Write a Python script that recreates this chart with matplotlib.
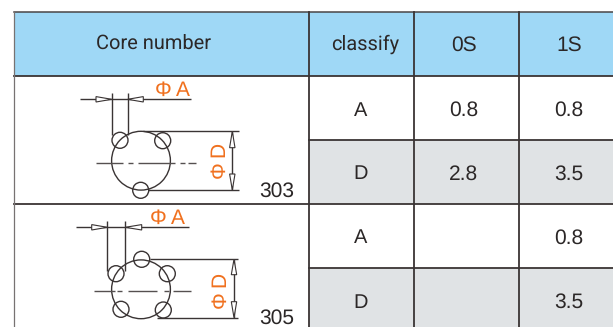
import matplotlib
matplotlib.use("Agg")
import matplotlib.pyplot as plt
from matplotlib.patches import Circle, Polygon, Rectangle

header_labels = ["Core number", "classify", "0S", "1S"]
core_numbers = ["303", "305"]
classes = ["A", "D", "A", "D"]
values_0s = ["0.8", "2.8", "", ""]
values_1s = ["0.8", "3.5", "0.8", "3.5"]

plt.rcParams["text.hinting"] = "no_hinting"
plt.rcParams["text.hinting_factor"] = 1

SANS = "Liberation Sans"
NARROW = "Roboto"
INK = "#3a3434"
TXT = "#2b2727"
ORANGE = "#f0701e"
BLUE = "#9fd8f6"
GREY = "#e0e3e5"

col_x = [14, 309, 414, 519, 613]
row_y = [12, 76, 140, 204, 268, 327]

fig = plt.figure(figsize=(6.13, 3.27), dpi=100)
ax = fig.add_axes([0, 0, 1, 1])
ax.set_xlim(0, 613)
ax.set_ylim(327, 0)
ax.axis("off")

ax.add_patch(Rectangle((14, 12), 599, 64, fc=BLUE, ec="none", zorder=0))
for r in (2, 4):
    ax.add_patch(Rectangle((309, row_y[r]), 304, row_y[r + 1] - row_y[r], fc=GREY, ec="none", zorder=0))

# grid
ax.plot([14, 613], [12, 12], color="#4a4545", lw=1.1, zorder=2)
ax.plot([14, 613], [76, 76], color=INK, lw=1.3, zorder=2)
ax.plot([14, 613], [204, 204], color=INK, lw=1.3, zorder=2)
ax.plot([309, 613], [140, 140], color=INK, lw=1.3, zorder=2)
ax.plot([309, 613], [268, 268], color=INK, lw=1.3, zorder=2)
ax.plot([14, 14], [12, 327], color="#777272", lw=0.9, zorder=2)
for x in col_x[1:4]:
    ax.plot([x, x], [12, 327], color=INK, lw=1.3, zorder=2)

# header text
hdr_centers = [154, 365, 464.5, 569.5]
hdr_y = [43, 44, 45.5, 45.5]
for i, (x, y, s) in enumerate(zip(hdr_centers, hdr_y, header_labels)):
    fam = NARROW if i < 2 else SANS
    size = 14.6 if i < 2 else 15
    ax.text(x, y, s, ha="center", va="center", family=fam, fontsize=size, color=TXT)

# body text
row_centers = [110.5, 174, 238, 302.5]
for y, c, a, b in zip(row_centers, classes, values_0s, values_1s):
    ax.text(361, y, c, ha="center", va="center", family=SANS, fontsize=14.5, color=TXT)
    if a:
        ax.text(464, y, a, ha="center", va="center", family=SANS, fontsize=15, color=TXT)
    ax.text(569, y, b, ha="center", va="center", family=SANS, fontsize=15, color=TXT)


def arrow(tip, base, horizontal=True, w=2.7):
    if horizontal:
        pts = [(tip, base[1]), (base[0], base[1] - w), (base[0], base[1] + w)]
    else:
        pts = [(base[0], tip), (base[0] - w, base[1]), (base[0] + w, base[1])]
    ax.add_patch(Polygon(pts, closed=True, fc="white", ec=INK, lw=0.8, zorder=4))


def seg(x0, y0, x1, y1, lw=1.0, c=INK):
    ax.plot([x0, x1], [y0, y1], color=c, lw=lw, solid_capstyle="butt", zorder=3)


def diagram(center, small, cl_y, cl_segs, vx, vy, hy, hx, arr, ext_top, ext_bot, dimx, darr,
            phia_xy, phid_xy, num, num_xy):
    ax.add_patch(Circle(center, 29.4, fc="none", ec=INK, lw=1.0, zorder=3))
    for s in small:
        ax.add_patch(Circle(s, 8, fc="none", ec=INK, lw=1.0, zorder=3))
    for x0, x1 in cl_segs:
        seg(x0, cl_y, x1, cl_y, c="#555050")
    for x in vx:
        seg(x, vy[0], x, vy[1])
    seg(hx[0], hy, hx[1], hy)
    arrow(vx[0], (arr[0], hy))
    arrow(vx[1], (arr[1], hy))
    seg(ext_top[0], ext_top[2], ext_top[1], ext_top[2])
    seg(ext_bot[0], ext_bot[2], ext_bot[1], ext_bot[2])
    seg(dimx, ext_top[2], dimx, ext_bot[2])
    arrow(ext_top[2], (dimx, darr[0]), horizontal=False)
    arrow(ext_bot[2], (dimx, darr[1]), horizontal=False)
    ax.text(*phia_xy, "Φ\u2009A", ha="center", va="center", family=SANS, fontsize=15, color=ORANGE, zorder=5)
    ax.text(*phid_xy, "Φ\u2009D", ha="center", va="center", rotation=90, family=SANS, fontsize=15, color=ORANGE, zorder=5)
    ax.text(*num_xy, num, ha="center", va="center", family=SANS, fontsize=15, color=TXT, zorder=5)


diagram((141, 160.7), [(120, 140.3), (162.7, 140.7), (140.7, 190.3)],
        162.7, [(96, 123), (128, 133), (138, 175), (180, 185), (188, 196)],
        [111.7, 127.7], [92.7, 135], 99.3, [80, 191], [96, 143.3],
        (143, 239, 131.3), (148, 239, 190), 232.3, (147.7, 174),
        (172.5, 90), (220.5, 161), core_numbers[0], (277, 191))
diagram((141, 289.3), [(141.7, 259.3), (167.3, 273.7), (163.3, 310), (121, 309.3), (116, 273.7)],
        290.7, [(94, 115), (117, 122), (128, 157), (164, 169), (173, 191)],
        [107.3, 125.3], [220.7, 270.7], 227.3, [76, 189], [91.7, 141.7],
        (150, 238, 259.3), (156.7, 238, 317.7), 234, (274.7, 301.7),
        (167.5, 218), (221, 291), core_numbers[1], (277, 318.5))

fig.savefig("out.png", dpi=100)
